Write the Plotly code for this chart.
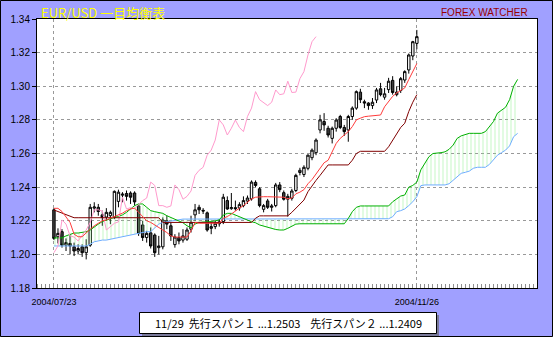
import plotly.graph_objects as go

# ---------------- data ----------------
DATE_LABELS = ["2004/07/23", "2004/11/26"]
LABEL_IDX = [0, 90]

opens = [1.2265, 1.2105, 1.2135, 1.2055, 1.2065, 1.2045, 1.2020, 1.2045, 1.2010, 1.2055,
         1.2275, 1.2280, 1.2235, 1.2222, 1.2230, 1.2220, 1.2315, 1.2352, 1.2362, 1.2365,
         1.2365, 1.2288, 1.2175, 1.2100, 1.2128, 1.2115, 1.2040, 1.2045, 1.2200, 1.2170,
         1.2058, 1.2100, 1.2085, 1.2090, 1.2150, 1.2235, 1.2280, 1.2262, 1.2247, 1.2155,
         1.2165, 1.2182, 1.2195, 1.2320, 1.2272, 1.2278, 1.2276, 1.2290, 1.2317, 1.2330,
         1.2428, 1.2390, 1.2268, 1.2318, 1.2280, 1.2290, 1.2413, 1.2367, 1.2328, 1.2334,
         1.2380, 1.2487, 1.2475, 1.2512, 1.2575, 1.2605, 1.2740, 1.2790, 1.2750, 1.2690,
         1.2750, 1.2820, 1.2755, 1.2740, 1.2820, 1.2870, 1.2965, 1.2908, 1.2900, 1.2885,
         1.2918, 1.2985, 1.2935, 1.2980, 1.3035, 1.2950, 1.2975, 1.3037, 1.3097, 1.3180,
         1.3255]
highs = [1.2275, 1.2155, 1.2150, 1.2095, 1.2120, 1.2070, 1.2060, 1.2060, 1.2090, 1.2300,
         1.2310, 1.2300, 1.2260, 1.2275, 1.2260, 1.2380, 1.2385, 1.2370, 1.2380, 1.2375,
         1.2375, 1.2300, 1.2200, 1.2140, 1.2160, 1.2125, 1.2110, 1.2220, 1.2230, 1.2190,
         1.2120, 1.2130, 1.2150, 1.2160, 1.2230, 1.2300, 1.2295, 1.2275, 1.2255, 1.2190,
         1.2200, 1.2210, 1.2360, 1.2345, 1.2365, 1.2320, 1.2310, 1.2345, 1.2350, 1.2440,
         1.2440, 1.2400, 1.2300, 1.2330, 1.2300, 1.2425, 1.2430, 1.2380, 1.2360, 1.2390,
         1.2480, 1.2515, 1.2530, 1.2595, 1.2630, 1.2690, 1.2830, 1.2840, 1.2765, 1.2760,
         1.2810, 1.2830, 1.2770, 1.2830, 1.2880, 1.2975, 1.2985, 1.2920, 1.2905, 1.2930,
         1.2990, 1.3020, 1.2990, 1.3050, 1.3060, 1.3000, 1.3055, 1.3095, 1.3195, 1.3270,
         1.3335]
lows = [1.2085, 1.2065, 1.2040, 1.2020, 1.2000, 1.1990, 1.2000, 1.1985, 1.1970, 1.2045,
        1.2250, 1.2230, 1.2170, 1.2200, 1.2180, 1.2210, 1.2280, 1.2310, 1.2320, 1.2300,
        1.2290, 1.2110, 1.2080, 1.2070, 1.2035, 1.1985, 1.2000, 1.2030, 1.2150, 1.2080,
        1.2040, 1.2060, 1.2070, 1.2080, 1.2130, 1.2200, 1.2240, 1.2240, 1.2135, 1.2120,
        1.2150, 1.2165, 1.2180, 1.2265, 1.2265, 1.2260, 1.2260, 1.2280, 1.2300, 1.2320,
        1.2400, 1.2280, 1.2250, 1.2270, 1.2255, 1.2280, 1.2370, 1.2320, 1.2225, 1.2320,
        1.2370, 1.2470, 1.2460, 1.2500, 1.2560, 1.2590, 1.2720, 1.2735, 1.2695, 1.2660,
        1.2730, 1.2745, 1.2705, 1.2670, 1.2800, 1.2860, 1.2900, 1.2870, 1.2860, 1.2865,
        1.2900, 1.2940, 1.2920, 1.2960, 1.2950, 1.2940, 1.2960, 1.3020, 1.3075, 1.3155,
        1.3220]
closes = [1.2095, 1.2125, 1.2055, 1.2070, 1.2050, 1.2020, 1.2035, 1.2010, 1.2045, 1.2280,
          1.2282, 1.2255, 1.2220, 1.2250, 1.2250, 1.2375, 1.2370, 1.2358, 1.2345, 1.2340,
          1.2312, 1.2125, 1.2100, 1.2125, 1.2050, 1.2010, 1.2050, 1.2205, 1.2180, 1.2110,
          1.2103, 1.2080, 1.2110, 1.2145, 1.2190, 1.2265, 1.2265, 1.2258, 1.2145, 1.2165,
          1.2185, 1.2193, 1.2340, 1.2270, 1.2278, 1.2272, 1.2296, 1.2320, 1.2335, 1.2430,
          1.2410, 1.2290, 1.2290, 1.2280, 1.2288, 1.2413, 1.2385, 1.2328, 1.2345, 1.2377,
          1.2470, 1.2500, 1.2518, 1.2590, 1.2620, 1.2680, 1.2800, 1.2770, 1.2710, 1.2750,
          1.2799, 1.2755, 1.2730, 1.2820, 1.2870, 1.2968, 1.2920, 1.2900, 1.2885, 1.2905,
          1.2978, 1.2950, 1.2955, 1.3030, 1.2963, 1.2965, 1.3045, 1.3087, 1.3186, 1.3265,
          1.3295]

tenkan = [1.2274, 1.2274, 1.2255, 1.2225, 1.2190, 1.2120, 1.2105, 1.2105, 1.2130, 1.2150,
          1.2170, 1.2185, 1.2200, 1.2205, 1.2215, 1.2225, 1.2235, 1.2245, 1.2260, 1.2270,
          1.2275, 1.2250, 1.2220, 1.2200, 1.2190, 1.2175, 1.2160, 1.2150, 1.2130, 1.2110,
          1.2103, 1.2103, 1.2103, 1.2103, 1.2140, 1.2190, 1.2185, 1.2185, 1.2185, 1.2185,
          1.2185, 1.2185, 1.2215, 1.2225, 1.2240, 1.2260, 1.2275, 1.2290, 1.2310, 1.2330,
          1.2340, 1.2343, 1.2343, 1.2343, 1.2343, 1.2343, 1.2343, 1.2340, 1.2330, 1.2335,
          1.2360, 1.2370, 1.2385, 1.2420, 1.2445, 1.2480, 1.2510, 1.2545, 1.2560, 1.2610,
          1.2660, 1.2690, 1.2710, 1.2730, 1.2760, 1.2800, 1.2810, 1.2819, 1.2822, 1.2825,
          1.2829, 1.2829, 1.2878, 1.2910, 1.2940, 1.2960, 1.2975, 1.2990, 1.3040, 1.3090,
          1.3135]
kijun = [1.2264, 1.2255, 1.2245, 1.2235, 1.2225, 1.2218, 1.2218, 1.2218, 1.2218, 1.2218,
         1.2218, 1.2218, 1.2218, 1.2218, 1.2218, 1.2218, 1.2218, 1.2218, 1.2218, 1.2218,
         1.2218, 1.2218, 1.2218, 1.2218, 1.2218, 1.2218, 1.2218, 1.2190, 1.2190, 1.2190,
         1.2190, 1.2190, 1.2190, 1.2190, 1.2190, 1.2190, 1.2190, 1.2190, 1.2190, 1.2190,
         1.2190, 1.2190, 1.2190, 1.2190, 1.2190, 1.2190, 1.2190, 1.2190, 1.2190, 1.2190,
         1.2215, 1.2229, 1.2229, 1.2229, 1.2229, 1.2229, 1.2229, 1.2229, 1.2229, 1.2250,
         1.2276, 1.2300, 1.2323, 1.2373, 1.2410, 1.2440, 1.2470, 1.2500, 1.2532, 1.2532,
         1.2532, 1.2532, 1.2532, 1.2532, 1.2560, 1.2600, 1.2613, 1.2613, 1.2613, 1.2613,
         1.2613, 1.2613, 1.2613, 1.2640, 1.2680, 1.2722, 1.2755, 1.2780, 1.2850, 1.2905,
         1.2950]
span_a = [1.2098, 1.2098, 1.2098, 1.2110, 1.2120, 1.2127, 1.2127, 1.2130, 1.2135, 1.2145,
          1.2165, 1.2180, 1.2195, 1.2204, 1.2215, 1.2220, 1.2225, 1.2235, 1.2250, 1.2270,
          1.2290, 1.2300, 1.2300, 1.2280, 1.2260, 1.2254, 1.2248, 1.2244, 1.2230, 1.2220,
          1.2210, 1.2200, 1.2188, 1.2170, 1.2158, 1.2180, 1.2190, 1.2192, 1.2192, 1.2195,
          1.2200, 1.2205, 1.2234, 1.2244, 1.2244, 1.2235, 1.2224, 1.2214, 1.2204, 1.2194,
          1.2188, 1.2175, 1.2168, 1.2160, 1.2155, 1.2148, 1.2145, 1.2145, 1.2155, 1.2170,
          1.2180, 1.2182, 1.2182, 1.2182, 1.2182, 1.2182, 1.2182, 1.2182, 1.2182, 1.2182,
          1.2182, 1.2182, 1.2182, 1.2214, 1.2254, 1.2280, 1.2288, 1.2288, 1.2288, 1.2288,
          1.2288, 1.2288, 1.2288, 1.2288, 1.2313, 1.2330, 1.2347, 1.2353, 1.2400, 1.2410,
          1.2430, 1.2503, 1.2540, 1.2581, 1.2600, 1.2601, 1.2605, 1.2610, 1.2625, 1.2650,
          1.2690, 1.2705, 1.2712, 1.2720, 1.2720, 1.2720, 1.2720, 1.2730, 1.2760, 1.2790,
          1.2840, 1.2860, 1.2875, 1.2920, 1.3000, 1.3041]
span_b = [1.2050, 1.2050, 1.2050, 1.2050, 1.2050, 1.2050, 1.2050, 1.2050, 1.2050, 1.2060,
          1.2075, 1.2080, 1.2085, 1.2085, 1.2090, 1.2095, 1.2100, 1.2105, 1.2110, 1.2115,
          1.2120, 1.2125, 1.2130, 1.2135, 1.2135, 1.2160, 1.2180, 1.2190, 1.2194, 1.2200,
          1.2204, 1.2210, 1.2210, 1.2210, 1.2210, 1.2210, 1.2210, 1.2210, 1.2210, 1.2210,
          1.2210, 1.2210, 1.2212, 1.2212, 1.2212, 1.2212, 1.2212, 1.2212, 1.2212, 1.2212,
          1.2212, 1.2212, 1.2212, 1.2212, 1.2212, 1.2212, 1.2212, 1.2212, 1.2212, 1.2212,
          1.2212, 1.2212, 1.2212, 1.2212, 1.2212, 1.2212, 1.2212, 1.2212, 1.2212, 1.2212,
          1.2212, 1.2212, 1.2212, 1.2212, 1.2212, 1.2212, 1.2212, 1.2212, 1.2212, 1.2212,
          1.2212, 1.2212, 1.2212, 1.2212, 1.2224, 1.2254, 1.2260, 1.2270, 1.2290, 1.2313,
          1.2343, 1.2409, 1.2413, 1.2413, 1.2413, 1.2413, 1.2413, 1.2413, 1.2420, 1.2442,
          1.2465, 1.2482, 1.2488, 1.2495, 1.2512, 1.2518, 1.2518, 1.2518, 1.2535, 1.2560,
          1.2590, 1.2605, 1.2620, 1.2645, 1.2700, 1.2720]
CHIKOU_SHIFT = 25
chikou = closes[CHIKOU_SHIFT:]

TITLE = "EUR/USD 一目均衡表"
BRAND = "FOREX WATCHER"
INFO = "11/29  先行スパン１ ...1.2503    先行スパン２ ...1.2409"

# ---------------- figure ----------------
W, H = 553, 337
L, R, T, B = 37, 16, 19, 49
PW, PH = W - L - R, H - T - B


def px(x):
    return (x - L) / PW


def py(y):
    return (H - B - y) / PH


idx = list(range(len(closes)))
span_idx = list(range(len(span_a)))
chi_idx = list(range(len(chikou)))

fig = go.Figure()
fig.add_trace(go.Scatter(x=span_idx, y=span_b, mode="lines",
                         line=dict(color="#6FAEFF", width=1), hoverinfo="skip"))
fig.add_trace(go.Scatter(x=span_idx, y=span_a, mode="lines",
                         line=dict(color="#00B000", width=1), fill="tonexty",
                         fillcolor="rgba(0,0,0,0)",
                         fillpattern=dict(shape="|", fgcolor="#8CF08C",
                                          bgcolor="rgba(255,255,255,0)",
                                          size=4, solidity=0.25),
                         hoverinfo="skip"))
fig.add_trace(go.Scatter(x=chi_idx, y=chikou, mode="lines",
                         line=dict(color="#FF9ACD", width=1), hoverinfo="skip"))
fig.add_trace(go.Scatter(x=idx, y=kijun, mode="lines",
                         line=dict(color="#800000", width=1), hoverinfo="skip"))
fig.add_trace(go.Scatter(x=idx, y=tenkan, mode="lines",
                         line=dict(color="#FF3B3B", width=1), hoverinfo="skip"))
fig.add_trace(go.Candlestick(x=idx, open=opens, high=highs, low=lows, close=closes,
                             increasing=dict(line=dict(color="black", width=1),
                                             fillcolor="white"),
                             decreasing=dict(line=dict(color="black", width=1),
                                             fillcolor="#404040"),
                             whiskerwidth=0, hoverinfo="skip"))

shapes = [
    # bottom info box shadow and box
    dict(type="rect", xref="paper", yref="paper",
         x0=px(142), x1=px(439), y0=py(336), y1=py(315),
         fillcolor="#7A7A9A", line=dict(width=0)),
    dict(type="rect", xref="paper", yref="paper",
         x0=px(139.5), x1=px(436.5), y0=py(333.5), y1=py(312.5),
         fillcolor="white", line=dict(color="black", width=1)),
    # outer frame
    dict(type="rect", xref="paper", yref="paper",
         x0=px(0.5), x1=px(552.5), y0=py(336.5), y1=py(0.5),
         line=dict(color="black", width=1)),
]

annotations = [
    dict(text=TITLE, xref="paper", yref="paper", x=px(39), y=py(12),
         xanchor="left", yanchor="middle", showarrow=False,
         font=dict(family="Noto Sans CJK JP", size=13, color="#FFFF00")),
    dict(text=BRAND, xref="paper", yref="paper", x=px(530), y=py(12),
         xanchor="right", yanchor="middle", showarrow=False,
         font=dict(family="Liberation Sans", size=10, color="#990000")),
    dict(text=INFO, xref="paper", yref="paper", x=px(288), y=py(323),
         xanchor="center", yanchor="middle", showarrow=False,
         font=dict(family="Noto Sans CJK JP", size=11, color="black")),
]

fig.update_layout(
    width=W, height=H,
    margin=dict(l=L, r=R, t=T, b=B, pad=0),
    paper_bgcolor="#A0A0FF", plot_bgcolor="white",
    showlegend=False, hovermode=False,
    boxgap=0.15,
    shapes=shapes, annotations=annotations,
    font=dict(family="Liberation Sans", color="black"),
)
fig.update_xaxes(
    range=[-4.2, 119.8], rangeslider=dict(visible=False),
    tickvals=LABEL_IDX, ticktext=DATE_LABELS, ticks="",
    tickfont=dict(size=9), ticklabelstandoff=5,
    showgrid=True, gridcolor="#999999", griddash="dot", gridwidth=1,
    showline=True, linecolor="black", linewidth=1, mirror=True, zeroline=False,
    minor=dict(ticks="inside", ticklen=4, tickcolor="#909090", dtick=1, tick0=0,
               showgrid=False),
)
fig.update_yaxes(
    range=[1.18, 1.34], dtick=0.02, tick0=1.18, tickformat=".2f",
    ticks="outside", ticklen=4, tickcolor="black", tickfont=dict(size=10),
    showgrid=True, gridcolor="#999999", griddash="dot", gridwidth=1,
    showline=True, linecolor="black", linewidth=1, mirror=True, zeroline=False,
)

fig.write_html("out.html")
